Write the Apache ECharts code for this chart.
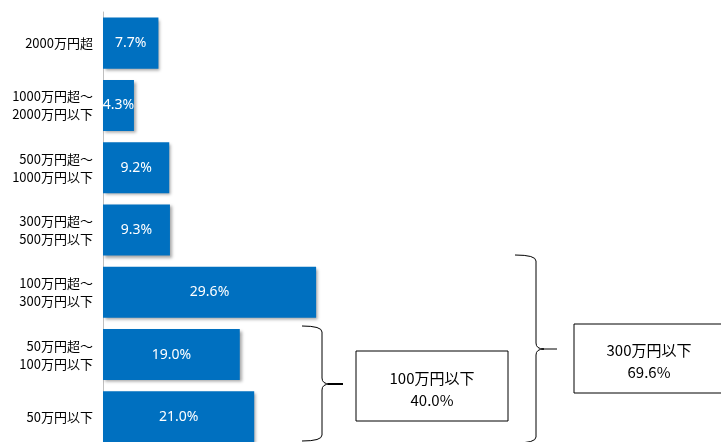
<!DOCTYPE html>
<html><head><meta charset="utf-8">
<script src="https://cdn.jsdelivr.net/npm/echarts@6/dist/echarts.min.js"></script>
<style>html,body{margin:0;padding:0;background:#fff;overflow:hidden}#c{width:721px;height:460px}</style>
</head><body><div id="c"></div>
<script>
const categories = ['2000万円超','1000万円超〜\n2000万円以下','500万円超〜\n1000万円以下','300万円超〜\n500万円以下','100万円超〜\n300万円以下','50万円超〜\n100万円以下','50万円以下'];
const values = [7.7, 4.3, 9.2, 9.3, 29.6, 19.0, 21.0];
const groupA = {label:'100万円以下', members:[5,6]};
const groupB = {label:'300万円以下', members:[4,5,6]};
const sumOf = g => g.members.reduce((s,i)=>s+values[i],0).toFixed(1)+'%';

const FONT = '"Noto Sans CJK JP", "Noto Sans", sans-serif';
const chart = echarts.init(document.getElementById('c'));

function brace(x0, x1, top, bottom, mid, tipEnd, tipWidth){
  const r = 6, st = {stroke:'#000', lineWidth:1, fill:null};
  return [
    {type:'bezierCurve', shape:{x1:x0, y1:top, cpx1:x1, cpy1:top, x2:x1, y2:top+r}, style:st},
    {type:'line', shape:{x1:x1, y1:top+r, x2:x1, y2:mid-r}, style:st},
    {type:'bezierCurve', shape:{x1:x1, y1:mid-r, cpx1:x1, cpy1:mid, x2:x1+8, y2:mid}, style:st},
    {type:'bezierCurve', shape:{x1:x1+8, y1:mid, cpx1:x1, cpy1:mid, x2:x1, y2:mid+r}, style:st},
    {type:'line', shape:{x1:x1, y1:mid+r, x2:x1, y2:bottom-r}, style:st},
    {type:'bezierCurve', shape:{x1:x1, y1:bottom-r, cpx1:x1, cpy1:bottom, x2:x0, y2:bottom}, style:st},
    {type:'line', shape:{x1:x1+6, y1:mid, x2:tipEnd, y2:mid}, style:{stroke:'#000', lineWidth:tipWidth}}
  ];
}
function box(x, y, w, h, g){
  return [
    {type:'rect', shape:{x:x, y:y, width:w, height:h}, style:{fill:'#fff', stroke:'#000', lineWidth:1}},
    {type:'text', x:x+w/2, y:y+h/2+3, style:{text:g.label+'\n'+sumOf(g), fill:'#000', font:'15px '+FONT, textAlign:'center', textVerticalAlign:'middle', lineHeight:22}}
  ];
}

chart.setOption({
  animation:false,
  grid:{left:103, top:12, width:576, height:436, containLabel:false},
  xAxis:{type:'value', min:0, max:80, show:false},
  yAxis:{type:'category', inverse:true, data:categories,
    axisLine:{lineStyle:{color:'#bfbfbf', width:1}},
    axisTick:{length:4, lineStyle:{color:'#bfbfbf'}},
    axisLabel:{color:'#000', fontSize:13, fontFamily:FONT, margin:10, lineHeight:18, align:'right'}},
  series:[{type:'bar', data:values, barCategoryGap:'18%',
    itemStyle:{color:'#0070c0', shadowColor:'rgba(0,0,0,0.35)', shadowBlur:3, shadowOffsetX:2, shadowOffsetY:2},
    label:{show:true, position:'inside', color:'#fff', fontSize:14, fontFamily:'"Noto Sans", sans-serif',
      formatter:p=>p.value.toFixed(1)+'%'}}],
  graphic:[].concat(
    brace(302, 322, 326, 441, 384, 343, 2),
    box(356, 351, 152, 70, groupA),
    brace(515, 536, 255, 443, 349, 557, 1),
    box(574, 324, 150, 69, groupB)
  )
});
</script></body></html>
